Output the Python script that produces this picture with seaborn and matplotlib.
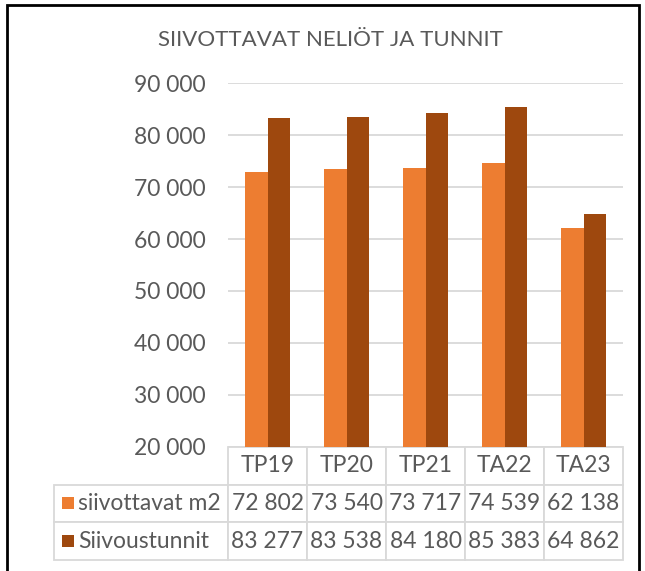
import matplotlib
matplotlib.use("Agg")
import pandas as pd
import matplotlib.pyplot as plt
from matplotlib.patches import Rectangle
from matplotlib.table import Table
from matplotlib.ticker import FuncFormatter
import seaborn as sns

# data (data table values)
categories = ["TP19", "TP20", "TP21", "TA22", "TA23"]
series_names = ["siivottavat m2", "Siivoustunnit"]
siivottavat_m2 = [72802, 73540, 73717, 74539, 62138]
siivoustunnit = [83277, 83538, 84180, 85383, 64862]
y_ticks = [20000, 30000, 40000, 50000, 60000, 70000, 80000, 90000]
title = "SIIVOTTAVAT NELIÖT JA TUNNIT"

bar_colors = ["#ED7D31", "#9E480E"]
text_col = "#595959"
grid_col = "#D9D9D9"


def fmt(v, pos=None):
    return f"{int(v):,}".replace(",", " ")


df = pd.DataFrame({
    "kausi": categories * 2,
    "sarja": [series_names[0]] * len(categories) + [series_names[1]] * len(categories),
    "arvo": siivottavat_m2 + siivoustunnit,
})

sns.set_theme(style="white")
plt.rcParams["font.family"] = ["Lato", "DejaVu Sans"]

fig = plt.figure(figsize=(6.45, 5.71), dpi=100)
ax = fig.add_axes([0.3535, 0.2172, 0.6124, 0.6374])

sns.barplot(data=df, x="kausi", y="arvo", hue="sarja", palette=bar_colors,
            width=0.57, saturation=1, legend=False, ax=ax, zorder=3,
            edgecolor="none", linewidth=0)

ax.set_xlim(-0.5, len(categories) - 0.5)
ax.set_ylim(y_ticks[0], y_ticks[-1])
ax.set_yticks(y_ticks)
ax.yaxis.set_major_formatter(FuncFormatter(fmt))
ax.set_xticks([])
ax.set_xlabel("")
ax.set_ylabel("")
ax.grid(axis="y", color=grid_col, lw=1.3, zorder=0)
ax.tick_params(axis="y", length=0, pad=16, labelsize=16.5, labelcolor=text_col)
sns.despine(ax=ax, left=True, bottom=True)

# data table under the bars
tbl = Table(ax, bbox=[-0.4405, -0.3104, 1.4405, 0.3104])
col_w = [0.4405] + [0.2] * len(categories)
row_h = 1.0 / 3
rows = [[series_names[0]] + [fmt(v) for v in siivottavat_m2],
        [series_names[1]] + [fmt(v) for v in siivoustunnit]]
corner = tbl.add_cell(0, 0, col_w[0], row_h, text="")
corner.visible_edges = "open"
for j, cat in enumerate(categories, start=1):
    tbl.add_cell(0, j, col_w[j], row_h, text=cat, loc="center")
for i, row in enumerate(rows, start=1):
    for j, val in enumerate(row):
        cell = tbl.add_cell(i, j, col_w[j], row_h, text=val,
                            loc="left" if j == 0 else "center")
        if j == 0:
            cell.PAD = 0.138
tbl.auto_set_font_size(False)
tbl.set_fontsize(16.5)
for (r, c), cell in tbl.get_celld().items():
    cell.set_edgecolor(grid_col)
    cell.set_linewidth(1.3)
    cell.get_text().set_color(text_col)
ax.add_table(tbl)

# legend keys in the table
ax.scatter([-0.405, -0.405], [-0.155, -0.259], marker="s", s=75, c=bar_colors,
           transform=ax.transAxes, clip_on=False, zorder=5, linewidths=0)

fig.text(0.512, 0.930, title, ha="center", va="center", fontsize=16, color=text_col)

fig.add_artist(Rectangle((0.0109, -0.1), 0.9798, 1.0912, transform=fig.transFigure,
                         fill=False, edgecolor="black", lw=2))

fig.savefig("out.png", dpi=100)
